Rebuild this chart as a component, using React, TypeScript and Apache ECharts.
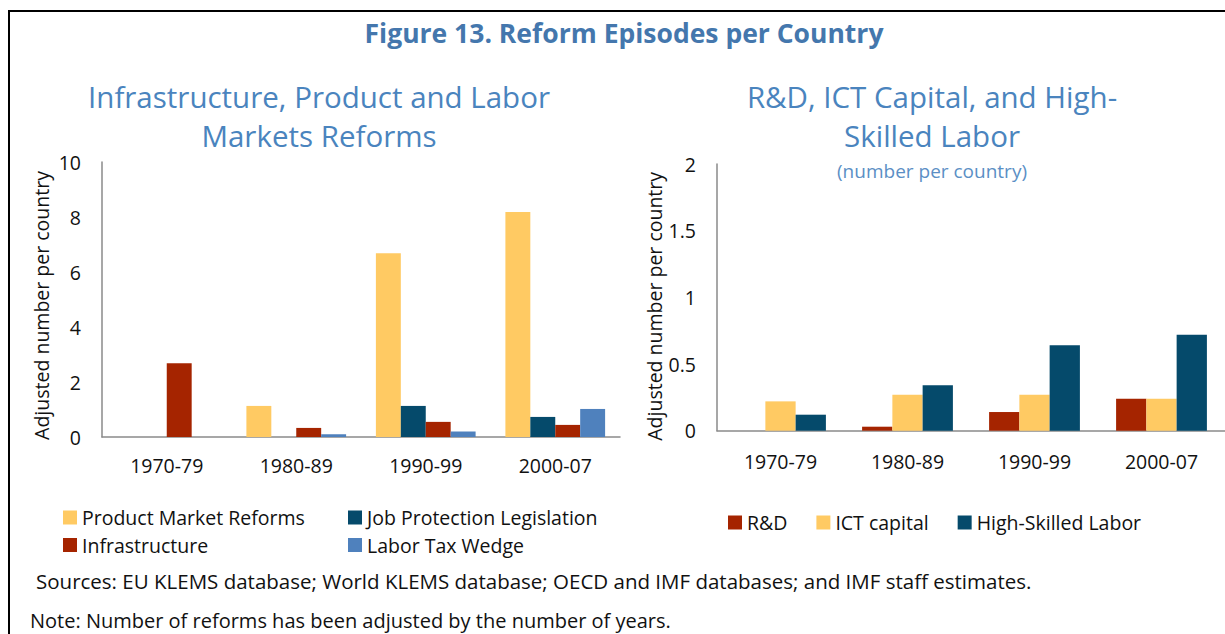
import React, { useEffect, useRef } from "react";
import * as echarts from "echarts";

const periods = ["1970-79", "1980-89", "1990-99", "2000-07"];

const productMarket = [0, 1.13, 6.68, 8.18];
const jobProtection = [0, 0, 1.13, 0.73];
const infrastructure = [2.68, 0.33, 0.55, 0.44];
const laborTaxWedge = [0, 0.1, 0.2, 1.02];

const rnd = [0, 0.03, 0.14, 0.24];
const ictCapital = [0.22, 0.27, 0.27, 0.24];
const highSkilled = [0.12, 0.34, 0.64, 0.72];

const leftTicks = [0, 2, 4, 6, 8, 10];
const rightTicks = [0, 0.5, 1, 1.5, 2];

const YELLOW = "#FFCA63";
const DARK = "#054A6B";
const RED = "#A52400";
const LIGHT = "#4F81BD";
const FONT = "'Open Sans', 'Noto Sans', sans-serif";
const FS = 19.5;

export default function App() {
  const ref = useRef<HTMLDivElement>(null);
  useEffect(() => {
    if (!ref.current) return;
    const chart = echarts.init(ref.current, undefined, { renderer: "svg" });
    const axisLine = { show: true, lineStyle: { color: "#8a8a8a", width: 1.5 } };
    const yLabel = { fontSize: FS, color: "#111", fontFamily: FONT, margin: 21 };
    const legendText = { fontSize: FS, color: "#111", fontFamily: FONT };
    const bar = (name: string, data: number[], color: string, idx: number, gap: string) => ({
      name,
      type: "bar",
      xAxisIndex: idx,
      yAxisIndex: idx,
      data,
      barGap: "0%",
      barCategoryGap: gap,
      itemStyle: { color },
    });
    chart.setOption({
      animation: false,
      backgroundColor: "#fff",
      grid: [
        { left: 102, top: 162, width: 518, height: 275 },
        { left: 717, top: 164, width: 512, height: 266.7 },
      ],
      xAxis: [
        {
          type: "category",
          gridIndex: 0,
          data: periods,
          axisLine,
          axisTick: { show: false },
          axisLabel: { fontSize: FS, color: "#111", fontFamily: FONT, margin: 18 },
        },
        {
          type: "category",
          gridIndex: 1,
          data: periods,
          axisLine,
          axisTick: { show: false },
          axisLabel: { fontSize: FS, color: "#111", fontFamily: FONT, margin: 21 },
        },
      ],
      yAxis: [
        {
          type: "value",
          gridIndex: 0,
          min: leftTicks[0],
          max: leftTicks[leftTicks.length - 1],
          interval: 2,
          axisLine,
          axisTick: { show: false },
          splitLine: { show: false },
          axisLabel: yLabel,
          name: "Adjusted number per country",
          nameLocation: "middle",
          nameRotate: 90,
          nameGap: 51,
          nameTextStyle: { fontSize: FS, color: "#111", fontFamily: FONT, padding: [0, 12, 0, 0] },
        },
        {
          type: "value",
          gridIndex: 1,
          min: rightTicks[0],
          max: rightTicks[rightTicks.length - 1],
          interval: 0.5,
          axisLine,
          axisTick: { show: false },
          splitLine: { show: false },
          axisLabel: yLabel,
          name: "Adjusted number per country",
          nameLocation: "middle",
          nameRotate: 90,
          nameGap: 53,
          nameTextStyle: { fontSize: FS, color: "#111", fontFamily: FONT, padding: [0, 18, 0, 0] },
        },
      ],
      legend: [
        {
          data: ["Product Market Reforms", "Infrastructure"],
          orient: "vertical",
          left: 58,
          top: 502.5,
          itemWidth: 14,
          itemHeight: 14,
          itemGap: 7.5,
          icon: "rect",
          textStyle: legendText,
        },
        {
          data: ["Job Protection Legislation", "Labor Tax Wedge"],
          orient: "vertical",
          left: 343,
          top: 502.5,
          itemWidth: 14,
          itemHeight: 14,
          itemGap: 7.5,
          icon: "rect",
          textStyle: legendText,
        },
        {
          data: ["R&D", "ICT capital", "High-Skilled Labor"],
          orient: "horizontal",
          left: 723,
          top: 507.5,
          itemWidth: 14,
          itemHeight: 14,
          itemGap: 29,
          icon: "rect",
          textStyle: legendText,
        },
      ],
      graphic: [
        { type: "rect", shape: { x: 8, y: 10, width: 1220, height: 2 }, style: { fill: "#000" } },
        { type: "rect", shape: { x: 8, y: 10, width: 2, height: 630 }, style: { fill: "#000" } },
        {
          type: "text",
          x: 624,
          y: 33,
          style: {
            text: "Figure 13. Reform Episodes per Country",
            fill: "#4477AD",
            fontSize: 26.5,
            fontWeight: "bold",
            fontFamily: FONT,
            align: "center",
            verticalAlign: "middle",
          },
        },
        {
          type: "text",
          x: 319,
          y: 115.5,
          style: {
            text: "Infrastructure, Product and Labor\nMarkets Reforms",
            fill: "#4A84BE",
            fontSize: 29.5,
            lineHeight: 39,
            fontFamily: FONT,
            align: "center",
            verticalAlign: "middle",
          },
        },
        {
          type: "text",
          x: 932,
          y: 115.5,
          style: {
            text: "R&D, ICT Capital, and High-\nSkilled Labor",
            fill: "#4A84BE",
            fontSize: 29.5,
            lineHeight: 39,
            fontFamily: FONT,
            align: "center",
            verticalAlign: "middle",
          },
        },
        {
          type: "text",
          x: 932,
          y: 171,
          style: {
            text: "(number per country)",
            fill: "#5B8FC5",
            fontSize: 19,
            fontFamily: FONT,
            align: "center",
            verticalAlign: "middle",
          },
        },
        {
          type: "text",
          x: 36,
          y: 581,
          style: {
            text: "Sources: EU KLEMS database; World KLEMS database; OECD and IMF databases; and IMF staff estimates.",
            fill: "#111",
            fontSize: 20.5,
            fontFamily: FONT,
            align: "left",
            verticalAlign: "middle",
          },
        },
        {
          type: "text",
          x: 30,
          y: 620,
          style: {
            text: "Note: Number of reforms has been adjusted by the number of years.",
            fill: "#111",
            fontSize: 20,
            fontFamily: FONT,
            align: "left",
            verticalAlign: "middle",
          },
        },
      ],
      series: [
        bar("Product Market Reforms", productMarket, YELLOW, 0, "23%"),
        bar("Job Protection Legislation", jobProtection, DARK, 0, "23%"),
        bar("Infrastructure", infrastructure, RED, 0, "23%"),
        bar("Labor Tax Wedge", laborTaxWedge, LIGHT, 0, "23%"),
        bar("R&D", rnd, RED, 1, "28.5%"),
        bar("ICT capital", ictCapital, YELLOW, 1, "28.5%"),
        bar("High-Skilled Labor", highSkilled, DARK, 1, "28.5%"),
      ],
    });
    return () => chart.dispose();
  }, []);
  return (
    <div
      ref={ref}
      style={{ position: "absolute", left: 0, top: 0, width: 1225, height: 634 }}
    />
  );
}
